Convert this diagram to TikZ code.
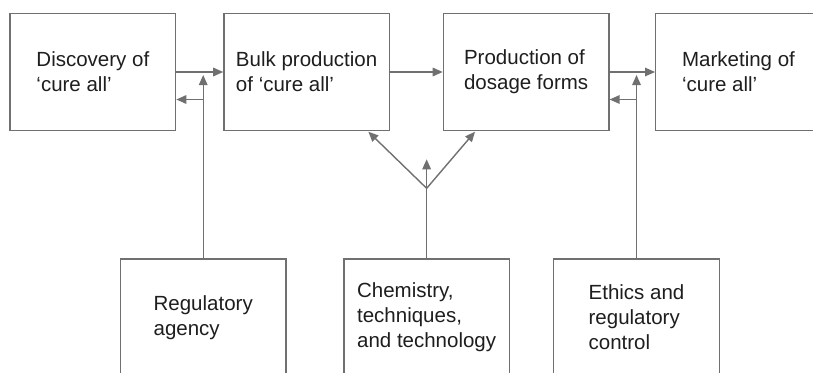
\documentclass[tikz,border=0pt]{standalone}
\usepackage{fontspec}
\setmainfont{Liberation Sans}
\usetikzlibrary{arrows.meta}
\definecolor{linegray}{HTML}{707070}
\definecolor{inkgray}{HTML}{1E1E1E}
\tikzset{
  box/.style={draw=linegray, line width=1.4pt, rectangle, align=left,
    minimum width=165.5pt, minimum height=117pt, inner sep=0pt,
    text=inkgray, font=\fontsize{20.5}{24.8}\selectfont},
  link/.style={draw=linegray, line width=1.4pt},
  arr/.style={link, -{Triangle[length=10pt,width=8.5pt]}}
}
\begin{document}
\begin{tikzpicture}[x=1pt,y=-1pt]
\useasboundingbox (0,0) rectangle (813,372);
\clip (0,0) rectangle (813,372);
\fill[white] (0,0) rectangle (813,372);

% main chain
\node[box] (disc) at (92.85,72)  {Discovery of\\‘cure all’};
\node[box] (bulk) at (306.65,72) {Bulk production\\of ‘cure all’};
\node[box] (dose) at (526.15,72) {Production of\\dosage forms};
\node[box] (mark) at (738.5,72)  {Marketing of\\‘cure all’};

% influencing factors
\node[box] (reg)  at (203.2,317.3) {Regulatory\\agency};
\node[box] (chem) at (426.65,317.3) {Chemistry,\\techniques,\\and technology};
\node[box] (eth)  at (636.5,317.3) {Ethics and\\regulatory\\control};

% helper points
\coordinate (regtop)  at (203.2,75);
\coordinate (regjoin) at (203.2,99.5);
\coordinate (ethtop)  at (636.5,75);
\coordinate (ethjoin) at (636.5,99.5);
\coordinate (fork)    at (426.65,188.3);
\coordinate (forkup)  at (426.65,159.3);
\coordinate (tipL)    at (368.3,131.7);
\coordinate (tipR)    at (475,131.7);

% chain arrows
\draw[arr] (disc.east) -- (bulk.west);
\draw[arr] (bulk.east) -- (dose.west);
\draw[arr] (dose.east) -- (mark.west);

% regulatory agency
\draw[arr] (reg.north) -- (regtop);
\draw[arr] (regjoin) -- (disc.east |- regjoin);

% ethics and regulatory control
\draw[arr] (eth.north) -- (ethtop);
\draw[arr] (ethjoin) -- (dose.east |- ethjoin);

% chemistry fork
\draw[link] (chem.north) -- (fork);
\draw[arr] (fork) -- (forkup);
\draw[arr] (fork) -- (tipL);
\draw[arr] (fork) -- (tipR);
\end{tikzpicture}
\end{document}
